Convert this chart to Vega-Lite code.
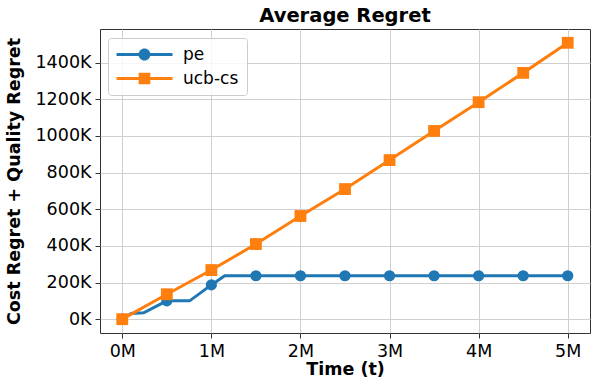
{
  "$schema": "https://vega.github.io/schema/vega-lite/v6.json",
  "autosize": "none",
  "width": 490,
  "height": 304,
  "padding": {"left": 100, "top": 29, "right": 8, "bottom": 55},
  "background": "white",
  "title": {"text": "Average Regret", "font": "DejaVu Sans", "fontSize": 19.5, "fontWeight": "bold", "color": "#000", "offset": 3, "anchor": "middle"},
  "datasets": {
    "lines": [
      {"series": "pe", "t": 0, "regret": 0},
      {"series": "pe", "t": 100000, "regret": 31000},
      {"series": "pe", "t": 240000, "regret": 35000},
      {"series": "pe", "t": 500000, "regret": 100000},
      {"series": "pe", "t": 756000, "regret": 100000},
      {"series": "pe", "t": 1000000, "regret": 187000},
      {"series": "pe", "t": 1150000, "regret": 237000},
      {"series": "pe", "t": 1500000, "regret": 237000},
      {"series": "pe", "t": 2000000, "regret": 237000},
      {"series": "pe", "t": 2500000, "regret": 237000},
      {"series": "pe", "t": 3000000, "regret": 237000},
      {"series": "pe", "t": 3500000, "regret": 237000},
      {"series": "pe", "t": 4000000, "regret": 237000},
      {"series": "pe", "t": 4500000, "regret": 237000},
      {"series": "pe", "t": 5000000, "regret": 237000},
      {"series": "ucb-cs", "t": 0, "regret": 0},
      {"series": "ucb-cs", "t": 500000, "regret": 136000},
      {"series": "ucb-cs", "t": 1000000, "regret": 268000},
      {"series": "ucb-cs", "t": 1500000, "regret": 410000},
      {"series": "ucb-cs", "t": 2000000, "regret": 563000},
      {"series": "ucb-cs", "t": 2500000, "regret": 710000},
      {"series": "ucb-cs", "t": 3000000, "regret": 868000},
      {"series": "ucb-cs", "t": 3500000, "regret": 1027000},
      {"series": "ucb-cs", "t": 4000000, "regret": 1184000},
      {"series": "ucb-cs", "t": 4500000, "regret": 1344000},
      {"series": "ucb-cs", "t": 5000000, "regret": 1508000}
    ],
    "markers": [
      {"series": "pe", "t": 0, "regret": 0},
      {"series": "pe", "t": 500000, "regret": 100000},
      {"series": "pe", "t": 1000000, "regret": 187000},
      {"series": "pe", "t": 1500000, "regret": 237000},
      {"series": "pe", "t": 2000000, "regret": 237000},
      {"series": "pe", "t": 2500000, "regret": 237000},
      {"series": "pe", "t": 3000000, "regret": 237000},
      {"series": "pe", "t": 3500000, "regret": 237000},
      {"series": "pe", "t": 4000000, "regret": 237000},
      {"series": "pe", "t": 4500000, "regret": 237000},
      {"series": "pe", "t": 5000000, "regret": 237000},
      {"series": "ucb-cs", "t": 0, "regret": 0},
      {"series": "ucb-cs", "t": 500000, "regret": 136000},
      {"series": "ucb-cs", "t": 1000000, "regret": 268000},
      {"series": "ucb-cs", "t": 1500000, "regret": 410000},
      {"series": "ucb-cs", "t": 2000000, "regret": 563000},
      {"series": "ucb-cs", "t": 2500000, "regret": 710000},
      {"series": "ucb-cs", "t": 3000000, "regret": 868000},
      {"series": "ucb-cs", "t": 3500000, "regret": 1027000},
      {"series": "ucb-cs", "t": 4000000, "regret": 1184000},
      {"series": "ucb-cs", "t": 4500000, "regret": 1344000},
      {"series": "ucb-cs", "t": 5000000, "regret": 1508000}
    ]
  },
  "encoding": {
    "x": {
      "field": "t", "type": "quantitative",
      "scale": {"domain": [-250000, 5250000], "nice": false, "zero": false},
      "axis": {
        "title": "Time (t)",
        "values": [0, 1000000, 2000000, 3000000, 4000000, 5000000],
        "labelExpr": "format(datum.value/1000000, 'd') + 'M'"
      }
    },
    "y": {
      "field": "regret", "type": "quantitative",
      "scale": {"domain": [-75400, 1583400], "nice": false, "zero": false},
      "axis": {
        "title": "Cost Regret + Quality Regret",
        "values": [0, 200000, 400000, 600000, 800000, 1000000, 1200000, 1400000],
        "labelExpr": "format(datum.value/1000, 'd') + 'K'"
      }
    },
    "color": {
      "field": "series", "type": "nominal",
      "scale": {"domain": ["pe", "ucb-cs"], "range": ["#1f77b4", "#ff7f0e"]},
      "legend": {
        "title": null,
        "orient": "none",
        "legendX": 8,
        "legendY": 9,
        "symbolSize": 144,
        "labelOffset": 50,
        "encode": {
          "symbols": {
            "update": {
              "shape": {"signal": "datum.value == 'pe' ? 'M-1.33,-0.25H8V0.25H-1.33Z M4.33,0A1,1,0,1,1,2.33,0A1,1,0,1,1,4.33,0Z' : 'M-1.33,-0.25H8V0.25H-1.33Z M2.36,-0.97H4.3V0.97H2.36Z'"},
              "fill": {"scale": "color", "field": "value"},
              "fillOpacity": {"value": 1},
              "opacity": {"value": 1},
              "strokeWidth": {"value": 0}
            }
          }
        }
      }
    }
  },
  "layer": [
    {"data": {"name": "lines"}, "transform": [{"filter": "datum.series == 'pe'"}], "mark": {"type": "line", "strokeWidth": 3, "interpolate": "linear"}},
    {"data": {"name": "markers"}, "transform": [{"filter": "datum.series == 'pe'"}], "mark": {"type": "point", "shape": "circle", "filled": true, "size": 125, "opacity": 1}},
    {"data": {"name": "lines"}, "transform": [{"filter": "datum.series == 'ucb-cs'"}], "mark": {"type": "line", "strokeWidth": 3, "interpolate": "linear"}},
    {"data": {"name": "markers"}, "transform": [{"filter": "datum.series == 'ucb-cs'"}], "mark": {"type": "point", "shape": "square", "filled": true, "size": 140, "opacity": 1}}
  ],
  "config": {
    "font": "DejaVu Sans",
    "view": {"stroke": "#333", "strokeWidth": 1},
    "axis": {
      "domain": false,
      "grid": true,
      "gridColor": "#cfcfcf",
      "gridWidth": 1,
      "tickColor": "#333",
      "tickSize": 5,
      "tickWidth": 1,
      "labelFont": "DejaVu Sans",
      "labelFontSize": 17.5,
      "labelColor": "#000",
      "labelPadding": 4,
      "titleFont": "DejaVu Sans",
      "titleFontSize": 17.5,
      "titleFontWeight": "bold",
      "titleColor": "#000"
    },
    "axisX": {"titlePadding": 1, "labelFlush": false},
    "axisY": {"titlePadding": 11.5, "labelFlush": false},
    "legend": {
      "labelFont": "DejaVu Sans",
      "labelFontSize": 17,
      "labelColor": "#000",
      "fillColor": "rgba(255,255,255,0.8)",
      "strokeColor": "#cccccc",
      "cornerRadius": 3,
      "padding": 8,
      "rowPadding": 6
    }
  }
}
